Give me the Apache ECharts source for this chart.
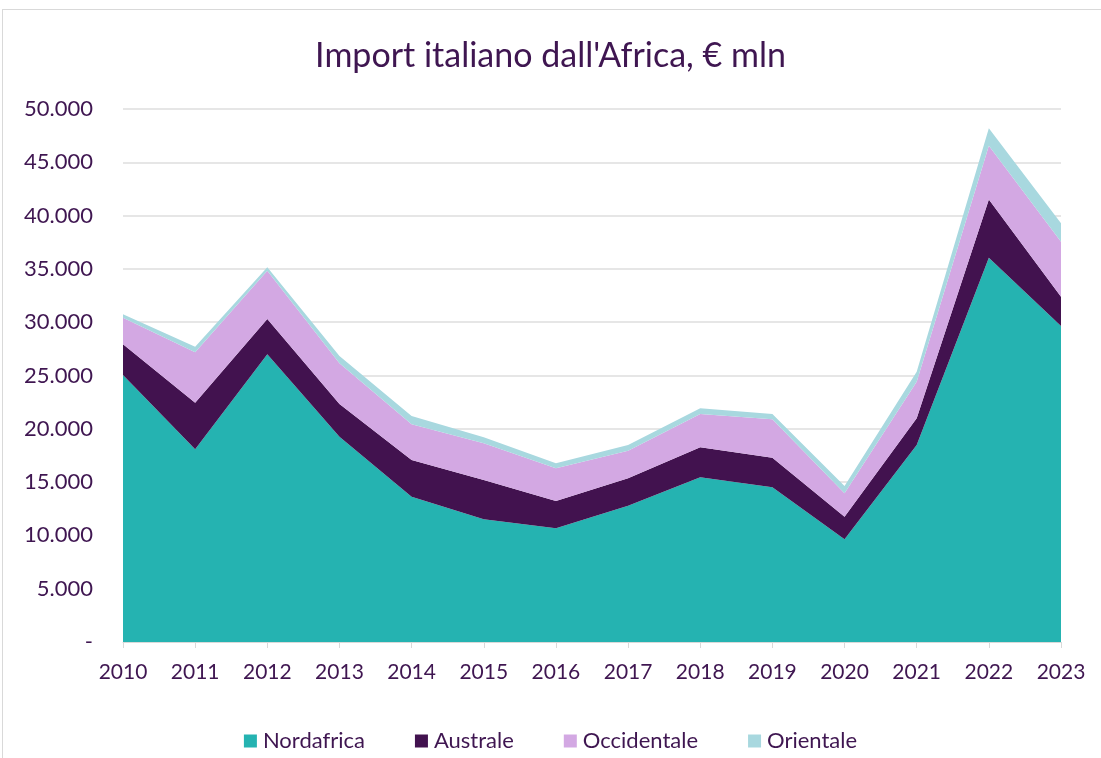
<!DOCTYPE html>
<html>
<head>
<meta charset="utf-8">
<script src="https://cdn.jsdelivr.net/npm/echarts@6/dist/echarts.min.js"></script>
<style>
  html, body { margin: 0; padding: 0; background: #fff; }
  #frame { position: absolute; left: 2px; top: 9px; width: 1110px; height: 760px; border: 1px solid #d9d9d9; }
  #chart { position: absolute; left: 0; top: 0; width: 1101px; height: 758px; }
</style>
</head>
<body>
<div id="frame"></div>
<div id="chart"></div>
<script>
    const years = ['2010', '2011', '2012', '2013', '2014', '2015', '2016', '2017', '2018', '2019', '2020', '2021', '2022', '2023'];
    const nordafrica = [25050, 18070, 26990, 19260, 13630, 11510, 10660, 12790, 15450, 14510, 9630, 18480, 36050, 29640];
    const australe = [2880, 4380, 3310, 3070, 3440, 3690, 2570, 2560, 2810, 2780, 2130, 2500, 5470, 2750];
    const occidentale = [2490, 4730, 4530, 3810, 3350, 3440, 3060, 2600, 3130, 3600, 2190, 3440, 5040, 5160];
    const orientale = [320, 520, 320, 690, 780, 560, 470, 530, 530, 500, 680, 940, 1630, 1730];

    const textColor = '#3f1651';
    const fontFam = 'Lato, "Open Sans", sans-serif';

    const chartDom = document.getElementById('chart');
    const myChart = echarts.init(chartDom, null, { renderer: 'canvas' });

    // stacked area layer
    const layer = (name, data, color) => ({
        name: name,
        type: 'line',
        stack: 'tot',
        data: data,
        symbol: 'none',
        lineStyle: { width: 0 },
        areaStyle: { color: color, opacity: 1 },
        itemStyle: { color: color }
    });

    const option = {
        animation: false,
        title: {
            text: "Import italiano dall'Africa, € mln",
            left: 'center',
            top: 34,
            textStyle: { color: textColor, fontSize: 34, fontWeight: 'normal', fontFamily: fontFam }
        },
        legend: {
            bottom: 1,
            left: 'center',
            itemWidth: 13,
            itemHeight: 13,
            itemGap: 50,
            icon: 'rect',
            textStyle: { color: textColor, fontSize: 22, fontFamily: fontFam, padding: [0, 0, 0, 1] }
        },
        grid: { left: 123, right: 40, top: 109, bottom: 116 },
        xAxis: {
            type: 'category',
            boundaryGap: false,
            data: years,
            axisLine: { lineStyle: { color: '#d9d9d9', width: 1 } },
            axisTick: { show: true, length: 6, lineStyle: { color: '#d9d9d9' } },
            axisLabel: { color: textColor, fontSize: 21, fontFamily: fontFam, margin: 20 }
        },
        yAxis: {
            type: 'value',
            min: 0,
            max: 50000,
            interval: 5000,
            axisLine: { show: false },
            axisTick: { show: false },
            splitLine: { lineStyle: { color: '#e6e6e6', width: 2 } },
            axisLabel: {
                color: textColor,
                fontSize: 22,
                fontFamily: fontFam,
                margin: 30,
                formatter: v => v === 0 ? '-' : v.toLocaleString('de-DE')
            }
        },
        series: [
            layer('Nordafrica', nordafrica, '#25b3b1'),
            layer('Australe', australe, '#42124f'),
            layer('Occidentale', occidentale, '#d3a8e3'),
            layer('Orientale', orientale, '#a8d8df')
        ]
    };

    myChart.setOption(option);
    window.addEventListener('resize', myChart.resize);
</script>
</body>
</html>
